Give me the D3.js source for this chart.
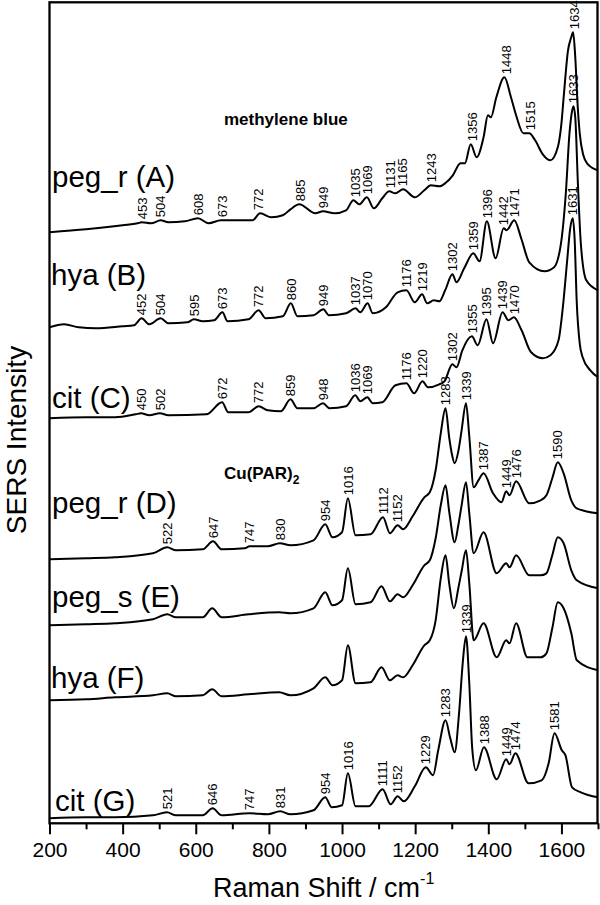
<!DOCTYPE html>
<html>
<head>
<meta charset="utf-8">
<script src="https://cdn.jsdelivr.net/npm/d3@7"></script>
<style>
  body { margin: 0; background: #fff; }
  svg text { font-family: "Liberation Sans", Arial, Helvetica, sans-serif; fill: #000; }
</style>
</head>
<body>
<div id="container"></div>
<script>

  // spectra: [Raman shift / cm-1, SERS intensity (a.u., stacked)]
  const specA = [[200,591],[300,594],[400,598],[441,600],[452,601],[478,600],[504,603],[525,601],[570,602],[606,605],[635,600],[669,603],[713,603],[755,603],[776,610],[807,606],[838,608],[859,614],[883,619],[927,610],[948,612],[979,610],[1011,613],[1031,623],[1047,619],[1068,626],[1087,615],[1110,625],[1129,632],[1146,630],[1167,634],[1199,626],[1225,633],[1243,638],[1266,637],[1282,640],[1303,648],[1324,660],[1336,660],[1352,679],[1368,666],[1387,686],[1399,708],[1407,706],[1422,726],[1444,746],[1462,726],[1476,708],[1496,690],[1512,690],[1528,683],[1549,669],[1570,663],[1590,676],[1600,700],[1607,730],[1618,773],[1626,785],[1632,791],[1638,765],[1644,720],[1650,690],[1660,668],[1670,660],[1700,653]];
  const specB = [[200,496],[240,499],[280,496],[327,495],[400,497],[431,498],[452,505],[473,499],[504,505],[525,500],[577,501],[595,504],[619,502],[650,503],[673,511],[687,502],[744,504],[772,513],[791,505],[838,507],[860,520],[878,507],[922,508],[949,514],[964,508],[1011,510],[1037,515],[1050,511],[1070,520],[1084,510],[1120,516],[1152,531],[1176,533],[1199,521],[1219,529],[1233,520],[1251,523],[1266,522],[1282,533],[1302,549],[1313,541],[1334,555],[1359,570],[1376,562],[1396,602],[1420,565],[1442,595],[1450,593],[1471,603],[1490,585],[1512,561],[1554,552],[1580,556],[1601,586],[1612,630],[1622,690],[1628,710],[1633,717],[1638,705],[1645,640],[1653,580],[1668,543],[1700,533]];
  const specC = [[200,405],[300,406],[379,406],[436,409],[450,410],[473,408],[502,410],[525,408],[629,409],[672,421],[689,411],[744,411],[772,417],[797,413],[833,412],[859,424],[878,415],[922,415],[948,420],[966,415],[1011,417],[1036,428],[1050,422],[1069,426],[1084,420],[1110,421],[1146,438],[1176,440],[1197,430],[1220,442],[1235,436],[1266,439],[1280,442],[1302,459],[1313,456],[1329,473],[1355,487],[1371,478],[1395,504],[1413,480],[1439,511],[1455,503],[1470,506],[1491,493],[1517,471],[1549,465],[1570,468],[1592,483],[1605,520],[1615,560],[1624,595],[1631,605],[1636,585],[1642,520],[1650,480],[1658,466],[1679,453],[1700,446]];
  const specD = [[200,264],[300,265],[379,266],[483,270],[522,276],[546,273],[619,274],[647,282],[671,274],[734,275],[747,277],[797,277],[830,280],[859,278],[922,283],[954,299],[974,286],[1000,291],[1016,325],[1037,288],[1078,289],[1112,306],[1131,290],[1152,298],[1167,294],[1193,307],[1225,326],[1240,331],[1256,353],[1270,390],[1283,415],[1293,386],[1300,370],[1308,360],[1318,372],[1327,393],[1339,420],[1348,387],[1360,336],[1373,343],[1387,350],[1413,330],[1436,321],[1449,332],[1458,328],[1476,342],[1512,320],[1543,323],[1559,328],[1575,345],[1590,361],[1606,350],[1627,323],[1642,315],[1700,310]];
  const specE = [[200,198],[300,199],[379,200],[483,204],[522,209],[546,206],[619,206],[645,215],[671,206],[744,209],[828,211],[859,210],[922,215],[954,231],[974,218],[1000,223],[1016,255],[1037,219],[1078,221],[1108,237],[1131,222],[1152,229],[1167,226],[1193,238],[1225,258],[1240,263],[1256,285],[1270,318],[1283,338],[1293,312],[1308,281],[1318,298],[1327,318],[1339,341],[1348,310],[1360,270],[1387,291],[1423,250],[1449,260],[1458,256],[1476,268],[1512,248],[1543,248],[1559,250],[1575,268],[1590,286],[1606,280],[1627,253],[1642,243],[1700,235]];
  const specF = [[200,123],[300,124],[379,126],[483,128],[522,130],[546,127],[619,128],[645,134],[671,127],[744,129],[828,131],[859,128],[922,135],[954,146],[974,138],[1000,143],[1016,178],[1037,140],[1078,141],[1108,156],[1131,143],[1152,148],[1167,146],[1193,158],[1225,178],[1240,183],[1256,203],[1270,245],[1283,268],[1293,240],[1306,215],[1318,235],[1327,252],[1339,273],[1348,240],[1360,183],[1387,200],[1423,166],[1449,183],[1458,180],[1476,200],[1507,166],[1543,166],[1559,170],[1575,195],[1590,221],[1606,215],[1627,190],[1642,163],[1700,153]];
  const specG = [[200,5],[300,6],[379,6],[483,8],[521,11],[546,8],[619,8],[646,15],[671,8],[747,10],[797,9],[831,12],[859,9],[922,13],[954,26],[972,16],[1000,18],[1016,50],[1037,17],[1073,17],[1111,34],[1133,19],[1152,27],[1169,22],[1199,37],[1229,56],[1249,48],[1263,73],[1283,103],[1296,85],[1308,71],[1320,110],[1330,160],[1339,187],[1348,140],[1356,75],[1366,53],[1388,76],[1423,44],[1449,64],[1458,59],[1474,70],[1510,40],[1546,43],[1565,60],[1581,90],[1601,73],[1611,68],[1629,36],[1653,31],[1700,26]];

  const spectrumNames = ["peg_r (A)", "hya (B)", "cit (C)", "peg_r (D)", "peg_s (E)", "hya (F)", "cit (G)"];

  // peak labels per spectrum (cm-1)
  const peaksA = [453, 504, 608, 673, 772, 885, 949, 1035, 1069, 1131, 1165, 1243, 1356, 1448, 1515, 1634];
  const peaksB = [452, 504, 595, 673, 772, 860, 949, 1037, 1070, 1176, 1219, 1302, 1359, 1396, 1442, 1471, 1633];
  const peaksC = [450, 502, 672, 772, 859, 948, 1036, 1069, 1176, 1220, 1302, 1355, 1395, 1439, 1470, 1631];
  const peaksD = [522, 647, 747, 830, 954, 1016, 1112, 1152, 1283, 1339, 1387, 1449, 1476, 1590];
  const peaksE = [];
  const peaksF = [];
  const peaksG = [521, 646, 747, 831, 954, 1016, 1111, 1152, 1229, 1283, 1339, 1388, 1449, 1474, 1581];

  const xTicks = [200, 400, 600, 800, 1000, 1200, 1400, 1600];
  const xMinorTicks = [300, 500, 700, 900, 1100, 1300, 1500, 1700];

  const spectra = [specA, specB, specC, specD, specE, specF, specG];
  const peakSets = [peaksA, peaksB, peaksC, peaksD, peaksE, peaksF, peaksG];

  // layout
  const width = 600;
  const height = 905;
  const plotLeft = 49.5, plotRight = 598, plotTop = 2.3, plotBottom = 823.3;
  const nameX = [52, 51, 52, 52, 52, 51, 55];
  const nameY = [187, 285, 408, 513, 607, 688, 811];

  const x = d3.scaleLinear().domain([200, 1700]).range([plotLeft, plotRight]);
  const y = d3.scaleLinear().domain([0, 821]).range([plotBottom, plotTop]);

  const svg = d3.create("svg")
      .attr("width", width)
      .attr("height", height);

  const line = d3.line()
      .x(d => x(d[0]))
      .y(d => y(d[1]))
      .curve(d3.curveMonotoneX);

  // spectra
  svg.append("g")
    .selectAll("path")
    .data(spectra)
    .join("path")
      .attr("d", line)
      .attr("fill", "none")
      .attr("stroke", "#000")
      .attr("stroke-width", 2)
      .attr("stroke-linejoin", "round");

  // highest point near a labelled peak
  function peakTop(spec, v) {
    const near = spec.filter(d => Math.abs(d[0] - v) <= 12);
    return d3.max(near, d => d[1]);
  }

  // rotated peak labels
  const lab = svg.append("g").attr("font-size", 13);
  spectra.forEach((spec, i) => {
    peakSets[i].forEach(v => {
      lab.append("text")
        .attr("transform", `translate(${x(v)},${y(peakTop(spec, v)) - 3}) rotate(-90)`)
        .attr("dy", "0.36em")
        .text(v);
    });
  });

  // spectrum names
  svg.append("g")
    .selectAll("text")
    .data(spectrumNames)
    .join("text")
      .attr("x", (d, i) => nameX[i])
      .attr("y", (d, i) => nameY[i])
      .attr("font-size", 29.5)
      .text(d => d);

  svg.append("text")
    .attr("x", 224)
    .attr("y", 125)
    .attr("font-size", 17)
    .attr("font-weight", "bold")
    .text("methylene blue");

  const cu = svg.append("text")
    .attr("x", 224)
    .attr("y", 479)
    .attr("font-size", 17)
    .attr("font-weight", "bold");
  cu.append("tspan").text("Cu(PAR)");
  cu.append("tspan").attr("font-size", 12).attr("dy", 5).text("2");

  // x axis (major + minor ticks)
  const xAxis = svg.append("g")
    .attr("transform", `translate(0,${plotBottom})`)
    .call(d3.axisBottom(x).tickValues(xTicks).tickSize(11).tickSizeOuter(0).tickPadding(8).tickFormat(d3.format("d")));
  xAxis.select(".domain").remove();
  xAxis.selectAll("line").attr("stroke-width", 2);
  xAxis.selectAll("text")
    .attr("font-size", 21)
    .attr("font-family", "'Liberation Sans', Arial, sans-serif");

  const xMinor = svg.append("g")
    .attr("transform", `translate(0,${plotBottom})`)
    .call(d3.axisBottom(x).tickValues(xMinorTicks).tickSize(6).tickSizeOuter(0).tickFormat(""));
  xMinor.select(".domain").remove();
  xMinor.selectAll("line").attr("stroke-width", 2);

  // frame
  svg.append("rect")
    .attr("x", plotLeft)
    .attr("y", plotTop)
    .attr("width", plotRight - plotLeft - 0.5)
    .attr("height", plotBottom - plotTop)
    .attr("fill", "none")
    .attr("stroke", "#000")
    .attr("stroke-width", 2.3);

  // axis titles
  const xt = svg.append("text")
    .attr("x", 213)
    .attr("y", 897)
    .attr("font-size", 27);
  xt.append("tspan").text("Raman Shift / cm");
  xt.append("tspan").attr("font-size", 16).attr("dy", -13).text("-1");

  svg.append("text")
    .attr("transform", "translate(25.5,440) rotate(-90)")
    .attr("text-anchor", "middle")
    .attr("font-size", 28)
    .text("SERS Intensity");

  document.getElementById("container").append(svg.node());

</script>
</body>
</html>
